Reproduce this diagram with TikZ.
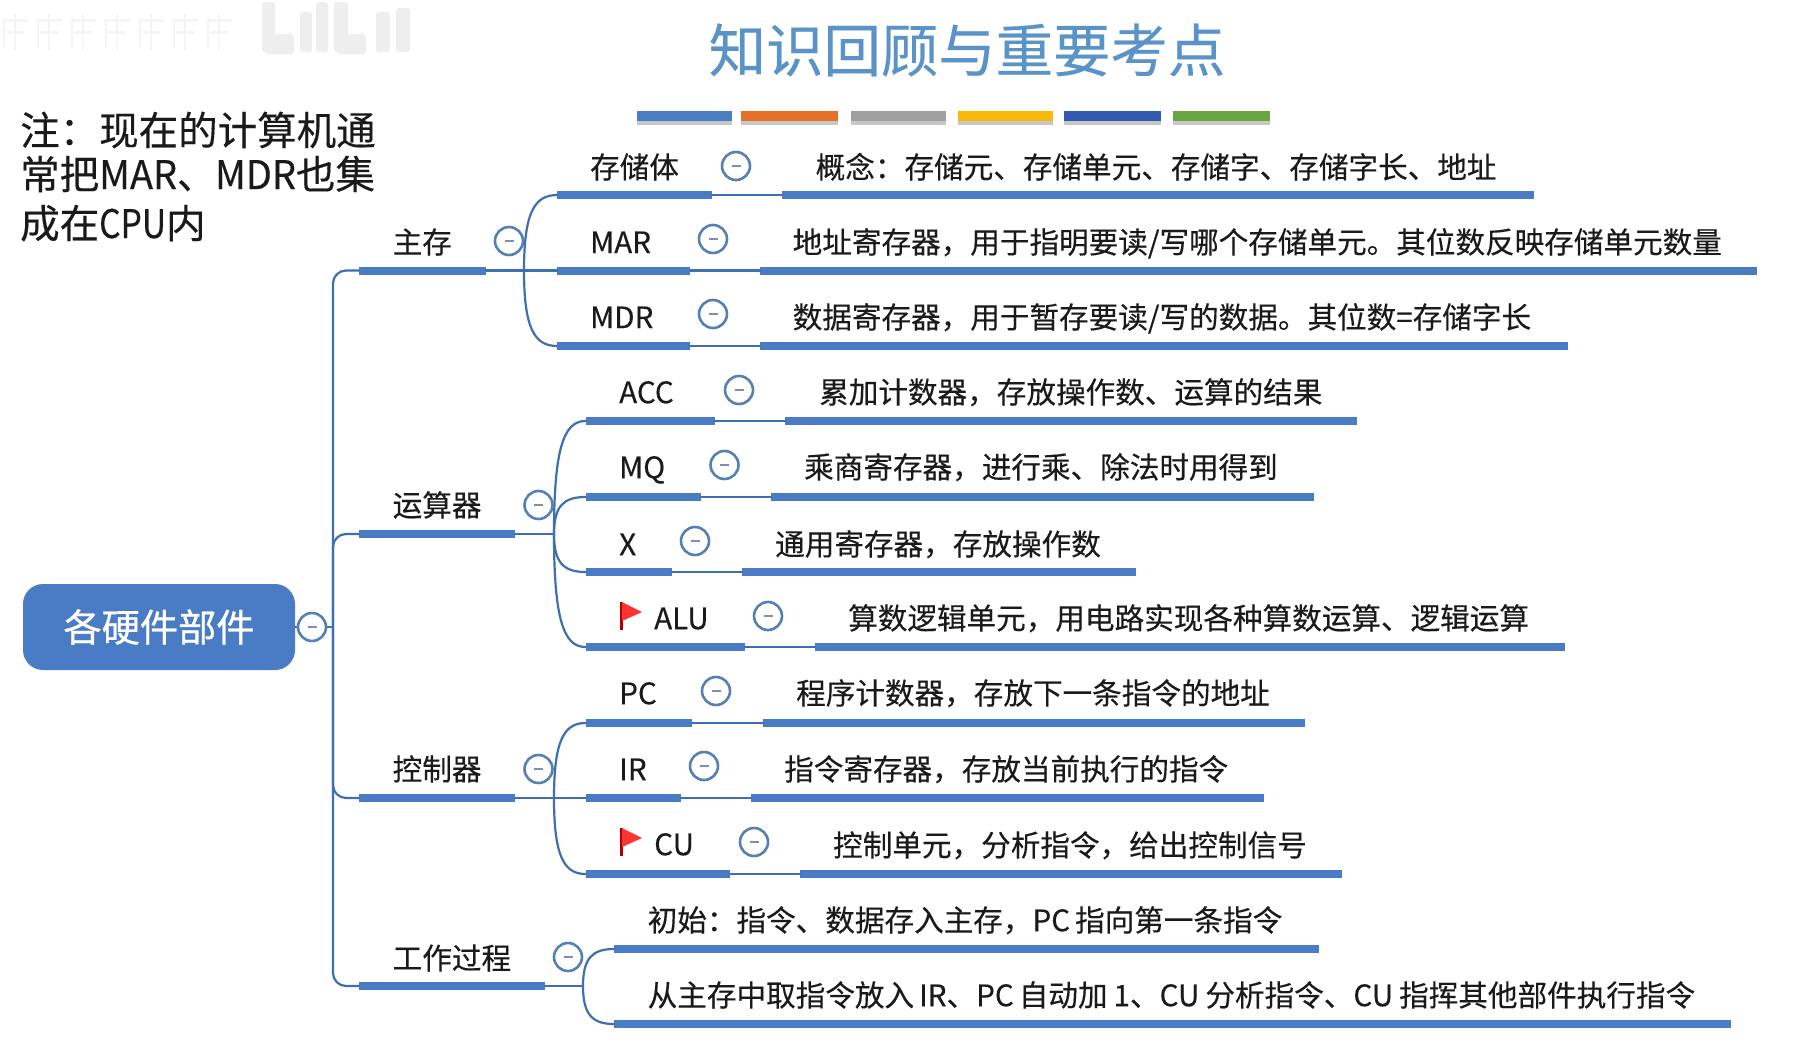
\documentclass[tikz,border=0pt]{standalone}
\usepackage{fontspec}
\setmainfont[FakeBold=0.3]{Noto Sans CJK SC}
\newfontfamily\strongface[FakeBold=0.7]{Noto Sans CJK SC}
\usetikzlibrary{calc}
\definecolor{barblue}{HTML}{4A7CC6}
\definecolor{wireblue}{HTML}{3E6FAE}
\definecolor{ringblue}{HTML}{5580B4}
\definecolor{dashgray}{HTML}{7F8DB0}
\definecolor{titleblue}{HTML}{5A93C8}
\definecolor{inktext}{HTML}{1A1A1A}
\definecolor{smudge}{HTML}{F5F5F5}
\definecolor{smudgeb}{HTML}{EEEEEE}
\tikzset{
  x=1pt,y=-1pt,
  bar/.style={line width=8pt,barblue},
  wire/.style={line width=2.2pt,wireblue,line cap=round},
  lab/.style={anchor=west,inner sep=0pt,text=inktext,text height=26pt,text depth=3.6pt,font=\fontsize{29.6}{30}\selectfont},
  tog/.style={circle,draw=ringblue,line width=2.6pt,fill=white,minimum size=28pt,inner sep=0pt,
    path picture={\draw[dashgray,line width=2.6pt] ([xshift=-4.5pt]path picture bounding box.center)--([xshift=4.5pt]path picture bounding box.center);}},
  swatch/.style={line width=10pt},
  swshadow/.style={line width=4pt,black!22},
  notetext/.style={anchor=west,inner sep=0pt,text=inktext,text height=34.8pt,text depth=4.7pt,font=\fontsize{39.5}{40}\selectfont},
}
\newcommand{\flagmark}[2]{%
  \fill[red!70!black] (#1,#2) rectangle ++(3,28);
  \fill[red!80!white] (#1+2,#2) -- (#1+22,#2+10) -- (#1+2,#2+19) -- cycle;
}
\newcommand{\topicbar}[4]{%
  \coordinate (#1L) at (#2,#4); \coordinate (#1R) at (#3,#4);
  \draw[bar] (#1L) -- (#1R);
}
\newcommand{\branchto}[2]{%
  \draw[wire] (#1) .. controls ($(#1)!0.75!(#1|-#2)$) and ($(#1|-#2)!0.3!(#2)$) .. (#2);
}
\begin{document}
\begin{tikzpicture}
\useasboundingbox (0,0) rectangle (1797,1052);
\fill[white] (0,0) rectangle (1797,1052);

% watermark smudge
\foreach \a in {2,36,70,104,138,172,206}{
  \draw[smudge,line width=3pt] (\a,20) -- ++(26,0);
  \draw[smudge,line width=3pt] (\a+4,32) -- ++(18,0);
  \draw[smudge,line width=2.5pt] (\a+13,14) -- ++(0,36);
  \draw[smudge,line width=2.5pt] (\a+2,20) -- ++(0,28);
}
\begin{scope}[fill=smudgeb]
\fill[rounded corners=3pt] (262,2) rectangle (275,52);
\fill[rounded corners=3pt] (264,34) rectangle (294,54);
\fill[rounded corners=3pt] (300,12) rectangle (312,52);
\fill[rounded corners=3pt] (316,2) rectangle (328,52);
\fill[rounded corners=3pt] (334,2) rectangle (348,52);
\fill[rounded corners=3pt] (336,34) rectangle (366,54);
\fill[rounded corners=3pt] (376,12) rectangle (390,52);
\fill[rounded corners=3pt] (396,8) rectangle (410,52);
\end{scope}

% title and colour swatches
\node[inner sep=0pt,text=titleblue,font=\fontsize{57.4}{58}\selectfont] (title) at (967,50) {知识回顾与重要考点};
\foreach \a/\b in {637/732,741/838,851/946,958/1053,1064/1161,1173/1270}{
  \draw[swshadow] (\a,122.5) -- (\b,122.5);
}
\draw[swatch,color={rgb,255:red,74;green,127;blue,193}] (637,116) -- (732,116);
\draw[swatch,color={rgb,255:red,228;green,112;blue,40}] (741,116) -- (838,116);
\draw[swatch,color={rgb,255:red,160;green,160;blue,160}] (851,116) -- (946,116);
\draw[swatch,color={rgb,255:red,250;green,185;blue,10}] (958,116) -- (1053,116);
\draw[swatch,color={rgb,255:red,52;green,90;blue,175}] (1064,116) -- (1161,116);
\draw[swatch,color={rgb,255:red,105;green,165;blue,65}] (1173,116) -- (1270,116);

% note
\node[notetext] (n1) at (20,130) {注：现在的计算机通};
\node[notetext] (n2) at (20,174) {常把\scalebox{0.96}[1]{MAR、MDR}也集};
\node[notetext] (n3) at (20,223) {成在\scalebox{0.85}[1]{CPU}内};

% bars
\topicbar{zc}{359}{486}{270.5}
\topicbar{ys}{359}{515}{534}
\topicbar{kz}{359}{515}{798}
\topicbar{gz}{359}{545}{986}

\topicbar{cc}{557}{712}{195}   \topicbar{ccd}{782}{1534}{195}
\topicbar{mar}{557}{690}{270.5}\topicbar{mard}{760}{1757}{270.5}
\topicbar{mdr}{557}{690}{346}  \topicbar{mdrd}{760}{1568}{346}
\topicbar{acc}{585.5}{715}{421}\topicbar{accd}{785}{1357}{421}
\topicbar{mq}{585.5}{701}{497} \topicbar{mqd}{771}{1314}{497}
\topicbar{xr}{585.5}{672}{572} \topicbar{xrd}{742}{1136}{572}
\topicbar{alu}{585.5}{744.5}{647}\topicbar{alud}{815}{1565}{647}
\topicbar{pc}{585.5}{692}{723} \topicbar{pcd}{763}{1304.5}{723}
\topicbar{ir}{585.5}{681}{798} \topicbar{ird}{751}{1264}{798}
\topicbar{cu}{585.5}{730}{874} \topicbar{cud}{800}{1342}{874}
\topicbar{cs}{614}{1319}{949}
\topicbar{qz}{614}{1731}{1024}

% root
\node[fill=barblue,rounded corners=20pt,minimum width=272pt,minimum height=86pt,inner sep=0pt,
  text=white,font=\fontsize{38.2}{40}\strongface] (root) at (159,627) {各硬件部件};

% trunk
\coordinate (trunkT) at (333,627);
\draw[wire] (root.east) -- (trunkT);
\draw[wire,rounded corners=13pt] (zcL) -| (trunkT) |- (gzL);
\draw[wire,rounded corners=13pt] (trunkT) |- (ysL);
\draw[wire,rounded corners=13pt] (trunkT) |- (kzL);

% parent to branch
\coordinate (bz) at (524,270.5);
\coordinate (by) at (554,534);
\coordinate (bk) at (554,798);
\coordinate (bg) at (583,986);
\draw[wire] (zcR) -- (marL);
\draw[wire] (ysR) -- (by);
\draw[wire] (kzR) -- (irL);
\draw[wire] (gzR) -- (bg);
\branchto{bz}{ccL}
\branchto{bz}{mdrL}
\branchto{by}{accL}
\branchto{by}{mqL}
\branchto{by}{xrL}
\branchto{by}{aluL}
\branchto{bk}{pcL}
\branchto{bk}{cuL}
\branchto{bg}{csL}
\branchto{bg}{qzL}

% bar to description bar
\foreach \s in {cc,mar,mdr,acc,mq,xr,alu,pc,ir,cu}{
  \draw[wire] (\s R) -- (\s dL);
}

% toggles
\node[tog] (t0) at (312,627) {};
\node[tog] (tzc) at (509,241) {};
\node[tog] (tys) at (538.5,505) {};
\node[tog] (tkz) at (538.5,769) {};
\node[tog] (tgz) at (568,957) {};
\node[tog] (tcc) at (736,166) {};
\node[tog] (tmar) at (713,239) {};
\node[tog] (tmdr) at (713,314) {};
\node[tog] (tacc) at (739,390) {};
\node[tog] (tmq) at (724.5,465) {};
\node[tog] (txr) at (695,541) {};
\node[tog] (talu) at (768,616) {};
\node[tog] (tpc) at (716,691) {};
\node[tog] (tir) at (704,766) {};
\node[tog] (tcu) at (754,842) {};

% flags
\flagmark{620}{602}
\flagmark{620}{828}

% labels
\node[lab] (lzc) at (392.5,242) {主存};
\node[lab] (lys) at (392.5,505) {运算器};
\node[lab] (lkz) at (392.5,769) {控制器};
\node[lab] (lgz) at (392.5,958) {工作过程};
\node[lab] (lcc) at (590,167) {存储体};
\node[lab] (lmar) at (590,242) {MAR};
\node[lab] (lmdr) at (590,317) {MDR};
\node[lab] (lacc) at (619,392) {ACC};
\node[lab] (lmq) at (619,467) {MQ};
\node[lab] (lx) at (619,544) {X};
\node[lab] (lalu) at (654,618) {ALU};
\node[lab] (lpc) at (619,693) {PC};
\node[lab] (lir) at (619,769) {IR};
\node[lab] (lcu) at (654,844) {CU};

\node[lab] (dcc) at (815.5,167) {概念：存储元、存储单元、存储字、存储字长、地址};
\node[lab] (dmar) at (792.5,242) {地址寄存器，用于指明要读/写哪个存储单元。其位数反映存储单元数量};
\node[lab] (dmdr) at (792.5,317) {数据寄存器，用于暂存要读/写的数据。其位数=存储字长};
\node[lab] (dacc) at (819,392) {累加计数器，存放操作数、运算的结果};
\node[lab] (dmq) at (804,467) {乘商寄存器，进行乘、除法时用得到};
\node[lab] (dx) at (775,544) {通用寄存器，存放操作数};
\node[lab] (dalu) at (848,618) {算数逻辑单元，用电路实现各种算数运算、逻辑运算};
\node[lab] (dpc) at (796,693) {程序计数器，存放下一条指令的地址};
\node[lab] (dir) at (784,769) {指令寄存器，存放当前执行的指令};
\node[lab] (dcu) at (833,845) {控制单元，分析指令，给出控制信号};
\node[lab] (dcs) at (647.5,920) {初始：指令、数据存入主存，PC\hspace{5pt}指向第一条指令};
\node[lab] (dqz) at (647.5,995) {从主存中取指令放入\hspace{5pt}IR、PC\hspace{5pt}自动加\hspace{6pt}1、CU\hspace{6pt}分析指令、CU\hspace{6pt}指挥其他部件执行指令};
\end{tikzpicture}
\end{document}
